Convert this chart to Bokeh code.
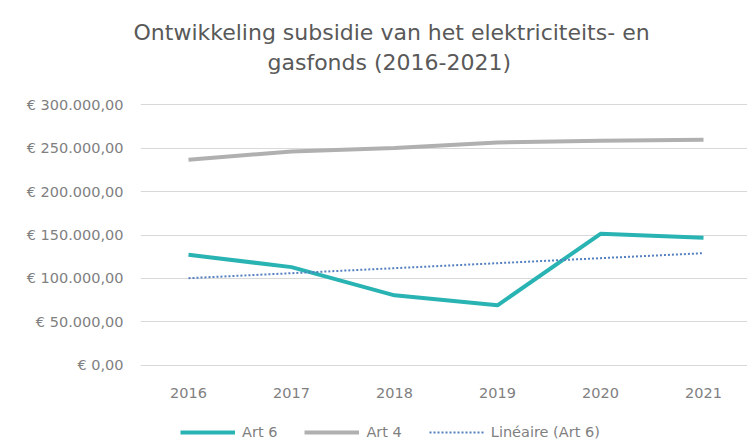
import numpy as np
from bokeh.plotting import figure
from bokeh.layouts import column
from bokeh.models import Range1d, FixedTicker, Legend, LegendItem, Title
from bokeh.embed import file_html
from bokeh.resources import INLINE

# ---- data ----
years = [2016, 2017, 2018, 2019, 2020, 2021]
art6 = [127200, 113000, 80500, 69000, 151400, 146800]
art4 = [236800, 246300, 250200, 256700, 258600, 259800]
y_ticks = [0, 50000, 100000, 150000, 200000, 250000, 300000]
y_tick_labels = ["€ 0,00", "€ 50.000,00", "€ 100.000,00", "€ 150.000,00",
                 "€ 200.000,00", "€ 250.000,00", "€ 300.000,00"]
x_tick_labels = ["2016", "2017", "2018", "2019", "2020", "2021"]
series_names = ["Art 6", "Art 4", "Linéaire (Art 6)"]
title_lines = ["Ontwikkeling subsidie van  het elektriciteits- en",
               "gasfonds (2016-2021)"]

# linear trendline of Art 6 (as in the source chart)
coef = np.polyfit(np.array(years, dtype=float), np.array(art6, dtype=float), 1)
trend = list(np.polyval(coef, np.array(years, dtype=float)))

TEAL = "#2ab3b3"
GREY = "#b0b0b0"
BLUE = "#5580c0"
TXT = "#7f7f7f"
FONT = "DejaVu Sans"

# ---- title strip ----
ts = figure(width=747, height=95, output_backend="svg", toolbar_location=None,
            x_axis_type=None, y_axis_type=None,
            min_border_top=74, min_border_bottom=0, min_border_left=0,
            min_border_right=0,
            x_range=Range1d(0, 1), y_range=Range1d(0, 1))
ts.outline_line_color = None
ts.xgrid.grid_line_color = None
ts.ygrid.grid_line_color = None
t2 = Title(text=title_lines[1], align="left", offset=127, text_font=FONT,
           text_font_size="22px", text_font_style="normal", text_color="#595959",
           standoff=0)
t1 = Title(text=title_lines[0], align="left", offset=-7, text_font=FONT,
           text_font_size="22px", text_font_style="normal", text_color="#595959",
           standoff=5)
ts.add_layout(t2, "above")
ts.add_layout(t1, "above")

# ---- main chart ----
p = figure(width=747, height=310, output_backend="svg", toolbar_location=None,
           x_range=Range1d(2015.534, 2021.427), y_range=Range1d(-1500, 301500),
           min_border_left=140, min_border_right=0, min_border_top=8,
           min_border_bottom=39)
p.outline_line_color = None
p.background_fill_color = "white"
p.border_fill_color = "white"

p.line(years, art6, line_color=TEAL, line_width=4)
p.line(years, art4, line_color=GREY, line_width=4)
p.line(years, trend, line_color=BLUE, line_width=2, line_dash="2 2")

p.xaxis.ticker = FixedTicker(ticks=years)
p.xaxis.major_label_overrides = {y: l for y, l in zip(years, x_tick_labels)}
p.yaxis.ticker = FixedTicker(ticks=y_ticks)
p.yaxis.major_label_overrides = {t: l for t, l in zip(y_ticks, y_tick_labels)}
for ax in (p.xaxis, p.yaxis):
    ax.axis_line_color = None
    ax.major_tick_line_color = None
    ax.minor_tick_line_color = None
    ax.major_label_text_color = TXT
    ax.major_label_text_font = FONT
    ax.major_label_text_font_size = "14.5px"
p.yaxis.major_label_standoff = 11
p.xaxis.major_label_standoff = 15

p.xgrid.grid_line_color = None
p.ygrid.grid_line_color = "#d9d9d9"
p.ygrid.grid_line_width = 1

# ---- legend strip ----
q = figure(width=747, height=39, output_backend="svg", toolbar_location=None,
           x_axis_type=None, y_axis_type=None, min_border=0,
           x_range=Range1d(0, 1), y_range=Range1d(0, 1))
q.outline_line_color = None
q.xgrid.grid_line_color = None
q.ygrid.grid_line_color = None
# legend proxies: the same series, outside this strip's visible range
g6 = q.line(years, art6, line_color=TEAL, line_width=4)
g4 = q.line(years, art4, line_color=GREY, line_width=4)
gt = q.line(years, trend, line_color=BLUE, line_width=2, line_dash="2 2")
legend = Legend(items=[LegendItem(label=series_names[0], renderers=[g6]),
                       LegendItem(label=series_names[1], renderers=[g4]),
                       LegendItem(label=series_names[2], renderers=[gt])],
                orientation="horizontal", location=(40, 3),
                glyph_width=55, glyph_height=18, label_height=18,
                label_standoff=7, spacing=27,
                label_text_font=FONT, label_text_font_size="14.5px",
                label_text_color=TXT, border_line_alpha=0,
                background_fill_alpha=0, padding=0, margin=0)
q.add_layout(legend, "center")

open("out.html", "w").write(file_html(column(ts, p, q, spacing=0), INLINE))
